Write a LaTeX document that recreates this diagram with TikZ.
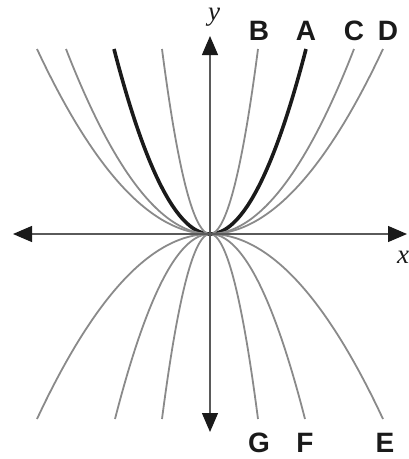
\documentclass[tikz,border=0pt]{standalone}
\usepackage{fontspec}
\setmainfont{Liberation Sans}
\newfontfamily\serifit{Liberation Serif}
\usetikzlibrary{arrows.meta}
\definecolor{curvegray}{HTML}{8A8A8A}
\definecolor{axisgray}{HTML}{5A5A5A}
\definecolor{ink}{HTML}{1A1A1A}
\begin{document}
\begin{tikzpicture}[x=1pt,y=-1pt,
  curve/.style={draw=curvegray, line width=1.8pt},
  boldcurve/.style={draw=ink, line width=3.6pt},
  axis/.style={draw=axisgray, line width=1.3pt, >={Triangle[length=19pt,width=16pt,color=ink]}, <->},
  lbl/.style={font=\fontsize{28}{28}\selectfont\bfseries, inner sep=0pt, text=ink, anchor=center},
  axlbl/.style={font=\fontsize{27}{27}\selectfont\serifit\itshape, inner sep=0pt, text=ink, anchor=center}]
\useasboundingbox (0,0) rectangle (409,459);
% coordinates
\coordinate (O) at (210,234);
\coordinate (xl) at (13,234);
\coordinate (xr) at (407,234);
\coordinate (yt) at (210,36);
\coordinate (yb) at (210,432);
% bold curve A
\draw[boldcurve] plot[domain=-96:96, samples=80, smooth] ({210+\x},{234-185*(\x/96)^2});
% upper curves B, C, D
\draw[curve] plot[domain=-48:48, samples=80, smooth] ({210+\x},{234-185*(\x/48)^2});
\draw[curve] plot[domain=-144:144, samples=80, smooth] ({210+\x},{234-185*(\x/144)^2});
\draw[curve] plot[domain=-173:173, samples=80, smooth] ({210+\x},{234-185*(\x/173)^2});
% lower curves G, F, E
\draw[curve] plot[domain=-48:48, samples=80, smooth] ({210+\x},{234+185*(\x/48)^2});
\draw[curve] plot[domain=-95:95, samples=80, smooth] ({210+\x},{234+185*(\x/95)^2});
\draw[curve] plot[domain=-173:173, samples=80, smooth] ({210+\x},{234+185*(\x/173)^2});
% axes
\draw[axis] (xl) -- (xr);
\draw[axis] (yb) -- (yt);
% labels
\node[axlbl] (ylab) at (214,17) {y};
\node[axlbl] (xlab) at (403,257) {x};
\node[lbl] (B) at (259,31) {B};
\node[lbl] (A) at (306,31) {A};
\node[lbl] (C) at (354,31) {C};
\node[lbl] (D) at (388,31) {D};
\node[lbl] (G) at (259,443) {G};
\node[lbl] (F) at (305,443) {F};
\node[lbl] (E) at (385,443) {E};
\end{tikzpicture}
\end{document}
